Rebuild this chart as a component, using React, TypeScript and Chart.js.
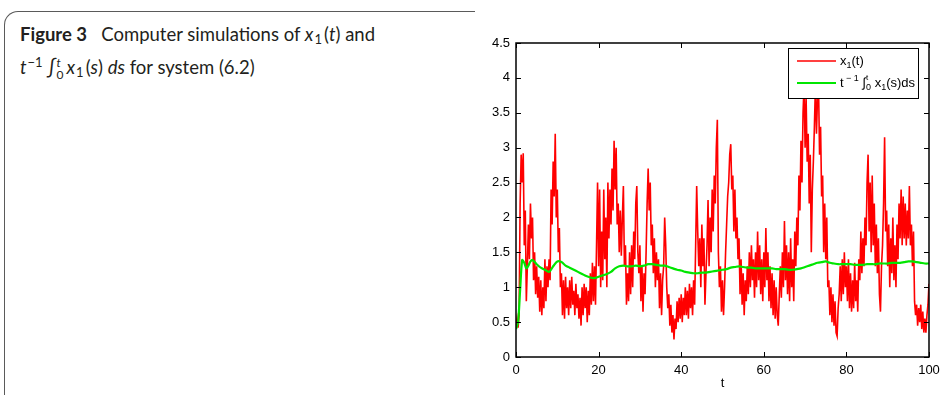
import React, { useEffect, useRef } from "react";
import { Chart, registerables } from "chart.js";

Chart.register(...registerables);

// ---------- data ----------
const X_MIN = 0;
const X_MAX = 100;
const X_STEP = 20;
const Y_MIN = 0;
const Y_MAX = 4.5;
const Y_STEP = 0.5;

// x1(t) sampled every 0.25 time units from t = 0 to t = 100
const RED_T0 = 0;
const RED_DT = 0.25;
const RED_VALUES = [
  // 0 - 5
  0.45, 0.55, 0.42, 0.6, 2.2, 2.9, 2.5, 2.92, 1.6, 2.1, 0.8, 1.3, 1.9, 1.4, 2.2, 1.7, 2.0, 1.1, 1.5, 0.9,
  // 5 - 10
  1.3, 0.85, 1.15, 0.65, 1.1, 0.6, 1.0, 0.7, 1.4, 0.8, 1.3, 1.0, 1.4, 1.1, 2.4, 1.9, 2.8, 2.3, 3.2, 2.0,
  // 10 - 15
  2.4, 1.5, 1.85, 1.0, 1.2, 0.6, 1.1, 0.55, 1.15, 0.7, 1.0, 0.6, 1.1, 0.7, 1.15, 0.75, 0.95, 0.6, 1.05, 0.7,
  // 15 - 20
  0.9, 0.55, 0.85, 0.45, 1.0, 0.6, 1.05, 0.7, 1.0, 0.5, 0.95, 0.6, 1.2, 0.75, 1.35, 0.8, 1.3, 0.75, 1.6, 2.5,
  // 20 - 25
  1.3, 2.4, 1.0, 1.8, 1.1, 2.4, 1.4, 2.0, 1.0, 2.5, 1.7, 2.4, 1.9, 2.7, 2.1, 3.1, 2.4, 3.0, 1.9, 2.2,
  // 25 - 30
  1.5, 2.1, 1.45, 2.0, 2.45, 1.3, 1.6, 0.75, 1.2, 0.8, 1.5, 0.9, 1.6, 1.0, 1.8, 1.4, 2.2, 2.45, 1.5, 1.2,
  // 30 - 35
  1.6, 0.8, 1.3, 0.65, 1.2, 0.9, 1.5, 2.2, 2.7, 2.1, 2.5, 1.6, 1.9, 1.2, 1.7, 1.0, 1.5, 1.1, 1.4, 0.7,
  // 35 - 40
  1.2, 0.6, 1.1, 1.3, 2.0, 1.6, 1.0, 0.7, 0.9, 0.45, 0.75, 0.35, 0.6, 0.25, 0.55, 0.4, 0.8, 0.5, 0.85, 0.55,
  // 40 - 45
  0.9, 0.5, 0.85, 0.6, 1.0, 0.6, 0.95, 0.55, 1.05, 0.7, 1.0, 0.6, 1.1, 0.75, 1.6, 2.45, 1.8, 1.3, 1.7, 1.0,
  // 45 - 50
  1.9, 1.3, 1.7, 0.75, 1.2, 1.6, 2.25, 1.3, 2.0, 1.5, 2.4, 1.8, 2.6, 2.2, 3.0, 3.4, 1.5, 1.0, 1.3, 0.65,
  // 50 - 55
  1.1, 0.6, 1.0, 1.5, 1.9, 2.3, 2.5, 2.9, 3.05, 2.4, 2.6, 1.8, 2.4, 1.7, 2.0, 1.4, 1.7, 0.9, 1.4, 0.75,
  // 55 - 60
  1.2, 0.6, 1.1, 0.8, 1.3, 0.9, 1.5, 1.0, 1.6, 1.1, 1.4, 0.85, 1.5, 1.0, 1.8, 1.1, 1.6, 0.9, 1.4, 0.8,
  // 60 - 65
  1.5, 1.0, 1.85, 1.1, 1.5, 0.8, 1.3, 0.7, 1.2, 0.6, 1.1, 0.55, 1.0, 0.6, 0.45, 0.9, 1.3, 0.85, 1.5, 1.0,
  // 65 - 70
  1.95, 1.1, 1.6, 0.9, 1.5, 0.8, 1.7, 1.0, 1.4, 0.8, 1.8, 1.3, 2.0, 1.6, 2.6, 2.1, 3.1, 2.5, 3.5, 3.9,
  // 70 - 75
  3.0, 3.7, 2.8, 3.2, 2.2, 2.9, 1.5, 2.4, 2.8, 3.3, 3.9, 3.2, 3.7, 3.9, 2.9, 3.3, 2.3, 2.6, 1.5, 2.2,
  // 75 - 80
  1.4, 2.0, 1.0, 1.1, 0.6, 1.0, 0.5, 0.9, 0.45, 0.8, 0.35, 0.3, 0.7, 0.9, 1.3, 0.8, 1.4, 0.9, 1.5, 1.0,
  // 80 - 85
  1.3, 0.8, 1.4, 0.7, 1.2, 0.65, 1.1, 0.7, 1.35, 0.8, 1.1, 0.65, 1.4, 1.1, 1.8, 1.2, 1.7, 1.3, 2.0, 1.6,
  // 85 - 90
  2.5, 2.9, 1.8, 2.5, 1.5, 2.6, 1.6, 2.2, 1.3, 1.9, 1.2, 1.7, 0.9, 0.65, 1.3, 1.6, 2.2, 3.15, 1.8, 2.1,
  // 90 - 95
  1.3, 1.9, 1.0, 1.7, 1.2, 2.0, 1.1, 1.6, 1.0, 1.9, 1.4, 2.2, 1.7, 2.4, 1.6, 2.3, 1.7, 2.2, 1.6, 2.1,
  // 95 - 100
  1.7, 2.45, 1.6, 1.9, 1.3, 1.8, 0.8, 0.6, 0.75, 0.45, 0.7, 0.5, 0.75, 0.4, 0.65, 0.35, 0.55, 0.35, 0.6, 0.75,
  1.05,
];

// running time average t^-1 * integral of x1
const GREEN_T = [
  0, 0.5, 1, 1.5, 2, 2.5, 3, 3.5, 4, 5, 6, 7, 8, 9, 10, 11, 12, 13, 14, 15, 16, 17, 18, 19, 20,
  21, 22, 23, 24, 25, 26, 27, 28, 29, 30, 31, 32, 33, 34, 35, 36, 37, 38, 39, 40,
  41, 42, 43, 44, 45, 46, 47, 48, 49, 50, 51, 52, 53, 54, 55, 56, 57, 58, 59, 60,
  61, 62, 63, 64, 65, 66, 67, 68, 69, 70, 71, 72, 73, 74, 75, 76, 77, 78, 79, 80,
  81, 82, 83, 84, 85, 86, 87, 88, 89, 90, 91, 92, 93, 94, 95, 96, 97, 98, 99, 100,
];
const GREEN_VALUES = [
  0.4, 0.5, 0.96, 1.39, 1.35, 1.27, 1.31, 1.37, 1.39, 1.33, 1.28, 1.25, 1.22, 1.3, 1.37, 1.36, 1.31, 1.28, 1.25, 1.22, 1.19, 1.16, 1.14, 1.13, 1.15,
  1.17, 1.19, 1.22, 1.27, 1.3, 1.31, 1.3, 1.3, 1.31, 1.3, 1.31, 1.33, 1.33, 1.32, 1.31, 1.31, 1.29, 1.27, 1.25, 1.24,
  1.22, 1.21, 1.2, 1.2, 1.21, 1.21, 1.22, 1.23, 1.24, 1.25, 1.26, 1.28, 1.29, 1.3, 1.29, 1.28, 1.28, 1.27, 1.27, 1.27,
  1.27, 1.27, 1.26, 1.26, 1.26, 1.25, 1.25, 1.26, 1.27, 1.29, 1.31, 1.33, 1.35, 1.36, 1.37, 1.35, 1.34, 1.33, 1.33, 1.33,
  1.33, 1.32, 1.32, 1.32, 1.33, 1.33, 1.33, 1.34, 1.34, 1.34, 1.35, 1.35, 1.35, 1.36, 1.37, 1.37, 1.36, 1.35, 1.34, 1.34,
];

const X_TITLE = "t";

// ---------- styles ----------
const RED = "#ff0000";
const GREEN = "#00e600";
const AXIS_FONT = "'Liberation Sans', Arial, sans-serif";

type Seg = { text: string; size: number; dy?: number; dx?: number; advance?: boolean };

function drawSegs(ctx: CanvasRenderingContext2D, segs: Seg[], x: number, y: number) {
  let cx = x;
  for (const s of segs) {
    ctx.font = `${s.size}px ${AXIS_FONT}`;
    ctx.fillText(s.text, cx + (s.dx || 0), y + (s.dy || 0));
    if (s.advance !== false) cx += ctx.measureText(s.text).width + (s.dx || 0);
  }
}

const framePlugin = {
  id: "matlabFrame",
  afterDatasetsDraw(chart: any) {
    const { ctx, chartArea, scales } = chart;
    const { left, right, top, bottom } = chartArea;
    ctx.save();
    // box
    ctx.strokeStyle = "#000";
    ctx.lineWidth = 1.5;
    ctx.strokeRect(left, top, right - left, bottom - top);
    // inward ticks
    ctx.lineWidth = 1;
    const tl = 5;
    ctx.beginPath();
    for (const t of scales.x.ticks) {
      const px = Math.round(scales.x.getPixelForValue(t.value)) + 0.5;
      ctx.moveTo(px, bottom);
      ctx.lineTo(px, bottom - tl);
      ctx.moveTo(px, top);
      ctx.lineTo(px, top + tl);
    }
    for (const t of scales.y.ticks) {
      const py = Math.round(scales.y.getPixelForValue(t.value)) + 0.5;
      ctx.moveTo(left, py);
      ctx.lineTo(left + tl, py);
      ctx.moveTo(right, py);
      ctx.lineTo(right - tl, py);
    }
    ctx.stroke();

    // legend (drawn on top of the data, MATLAB style)
    const lw = 130;
    const lh = 50;
    const lx = right - 11 - lw;
    const ly = top + 5;
    ctx.fillStyle = "#fff";
    ctx.fillRect(lx, ly, lw, lh);
    ctx.strokeStyle = "#000";
    ctx.lineWidth = 1;
    ctx.strokeRect(lx + 0.5, ly + 0.5, lw, lh);

    const r1 = ly + 13;
    const r2 = ly + 35;
    ctx.lineWidth = 1.5;
    ctx.strokeStyle = RED;
    ctx.beginPath();
    ctx.moveTo(lx + 9, r1);
    ctx.lineTo(lx + 48, r1);
    ctx.stroke();
    ctx.strokeStyle = GREEN;
    ctx.lineWidth = 2;
    ctx.beginPath();
    ctx.moveTo(lx + 9, r2);
    ctx.lineTo(lx + 48, r2);
    ctx.stroke();

    ctx.fillStyle = "#000";
    ctx.textBaseline = "alphabetic";
    ctx.textAlign = "left";
    const tx = lx + 52;
    drawSegs(ctx, [
      { text: "x", size: 13 },
      { text: "1", size: 9, dy: 3 },
      { text: "(t)", size: 13 },
    ], tx, r1 + 4);
    drawSegs(ctx, [
      { text: "t", size: 13 },
      { text: " \u2212 1", size: 9, dy: -6 },
      { text: " \u222B", size: 13 },
      { text: "t", size: 8, dy: -7, advance: false },
      { text: "0", size: 9, dy: 3 },
      { text: " x", size: 13 },
      { text: "1", size: 9, dy: 3 },
      { text: "(s)ds", size: 13 },
    ], tx, r2 + 4);
    ctx.restore();
  },
};

function buildRed() {
  return RED_VALUES.map((v, i) => ({ x: RED_T0 + i * RED_DT, y: v }));
}
function buildGreen() {
  return GREEN_T.map((t, i) => ({ x: t, y: GREEN_VALUES[i] }));
}

function ChartCanvas() {
  const ref = useRef<HTMLCanvasElement | null>(null);
  useEffect(() => {
    if (!ref.current) return;
    const chart = new Chart(ref.current, {
      type: "line",
      data: {
        datasets: [
          {
            label: "x1(t)",
            data: buildRed(),
            borderColor: RED,
            borderWidth: 1.6,
            pointRadius: 0,
            tension: 0,
            order: 2,
          },
          {
            label: "t^-1 int x1",
            data: buildGreen(),
            borderColor: GREEN,
            borderWidth: 2.2,
            pointRadius: 0,
            tension: 0.3,
            order: 1,
          },
        ],
      },
      options: {
        responsive: false,
        animation: false,
        events: [],
        layout: { padding: { left: 0, top: 43, right: 22, bottom: 0 } },
        plugins: { legend: { display: false }, tooltip: { enabled: false } },
        scales: {
          x: {
            type: "linear",
            min: X_MIN,
            max: X_MAX,
            grid: { display: false, drawTicks: false },
            border: { display: false },
            ticks: {
              stepSize: X_STEP,
              padding: 6,
              color: "#000",
              font: { family: AXIS_FONT, size: 13 },
              maxRotation: 0,
            },
            title: {
              display: true,
              text: X_TITLE,
              color: "#000",
              font: { family: AXIS_FONT, size: 13 },
              padding: { top: 0, bottom: 4 },
            },
            afterFit: (s: any) => {
              s.height = 38;
            },
          },
          y: {
            type: "linear",
            min: Y_MIN,
            max: Y_MAX,
            grid: { display: false, drawTicks: false },
            border: { display: false },
            ticks: {
              stepSize: Y_STEP,
              padding: 6,
              color: "#000",
              font: { family: AXIS_FONT, size: 13 },
              callback: (v: any) => String(+Number(v).toFixed(2)),
            },
            afterFit: (s: any) => {
              s.width = 516;
            },
          },
        },
      },
      plugins: [framePlugin],
    });
    return () => chart.destroy();
  }, []);
  return (
    <canvas
      ref={ref}
      width={951}
      height={395}
      style={{ position: "absolute", left: 0, top: 0, width: 951, height: 395, display: "block" }}
    />
  );
}

export default function App() {
  const cap: React.CSSProperties = {
    position: "absolute",
    left: 20,
    top: 23,
    fontFamily: "Lato, 'Open Sans', sans-serif",
    fontSize: 18.5,
    lineHeight: "23px",
    color: "#231f20",
    whiteSpace: "nowrap",
  };
  const sub: React.CSSProperties = { fontSize: 13, verticalAlign: "-3px", marginLeft: 1, marginRight: 2 };
  return (
    <div style={{ position: "absolute", left: 0, top: 0, width: 951, height: 395, overflow: "hidden", background: "#fff" }}>
      <div
        style={{
          position: "absolute",
          left: 4,
          top: 11,
          width: 470,
          height: 420,
          borderTop: "1.4px solid #5a5a5a",
          borderLeft: "1.4px solid #5a5a5a",
          borderTopLeftRadius: 14,
        }}
      />
      <div style={cap}>
        <b>Figure 3</b>&nbsp;&nbsp; Computer simulations of <i>x</i>
        <sub style={sub}>1</sub>(<i>t</i>) and
        <br />
        <i>t</i>
        <sup style={{ fontSize: 13, verticalAlign: "7px", marginLeft: 1 }}>&minus;1</sup>{" "}
        <i style={{ fontSize: 20 }}>&int;</i>
        <span
          style={{
            display: "inline-block",
            verticalAlign: "-5px",
            lineHeight: "12px",
            fontSize: 12,
            marginLeft: 1,
            marginRight: 3,
          }}
        >
          <i style={{ display: "block" }}>t</i>
          <span style={{ display: "block" }}>0</span>
        </span>
        <i>x</i>
        <sub style={sub}>1</sub>(<i>s</i>) <i>ds</i> for system (6.2)
      </div>
      <ChartCanvas />
    </div>
  );
}
